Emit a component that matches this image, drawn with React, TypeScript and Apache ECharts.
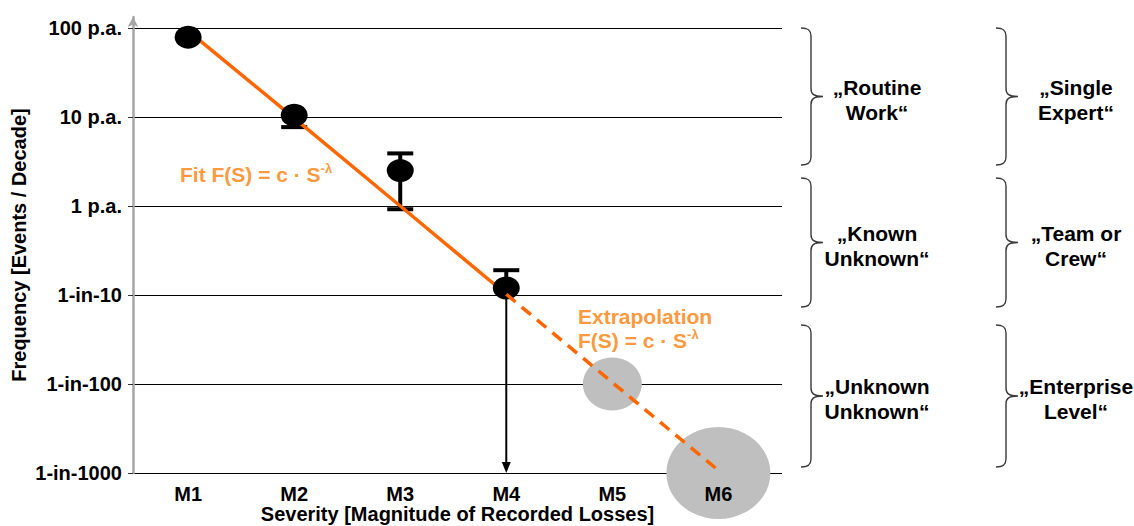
import React, { useEffect, useRef } from "react";
import * as echarts from "echarts";

// ---------- data ----------
const categories = ["M1", "M2", "M3", "M4", "M5", "M6"];
const yTickValues = [0.001, 0.01, 0.1, 1, 10, 100];
const yTickLabels = ["1-in-1000", "1-in-100", "1-in-10", "1 p.a.", "10 p.a.", "100 p.a."];
// observed frequencies (events / decade) for M1..M4
const observed = [79, 10.5, 2.5, 0.12];
const errLow = [0, 7.7, 0.92, 0.001];
const errHigh = [0, 0, 3.9, 0.19];
// power-law fit, solid over observed range M1..M4, dashed extrapolation M4..M6
const fitSolid = [93, 9.7, 1.0, 0.102];
const fitDashed = [0.102, 0.0104, 0.00107];
// "unknown" events at M5, M6
const unknownEvents = [0.01, 0.001];
const bandsLeft = ["„Routine\nWork“", "„Known\nUnknown“", "„Unknown\nUnknown“"];
const bandsRight = ["„Single\nExpert“", "„Team or\nCrew“", "„Enterprise\nLevel“"];

// ---------- styles / layout ----------
const FONT = '"Liberation Sans", Arial, Helvetica, sans-serif';
const ORANGE_LINE = "#ff6600";
const ORANGE_TEXT = "#fb9a40";
const Y_MIN = 0.001;
const Y_MAX = 133;
const ellipseSizes = [
  [59, 53],
  [104, 92],
];
const braceRows = [
  [28, 165],
  [178, 307],
  [325, 467],
];
const braceCols = [
  { x0: 801, tip: 823, textX: 877 },
  { x0: 996, tip: 1018, textX: 1076 },
];

function bracePath(x0: number, xt: number, y0: number, y1: number) {
  const xv = x0 + 10;
  const mid = (y0 + y1) / 2;
  const r = 8;
  return (
    `M${x0},${y0} C${xv - 2},${y0} ${xv},${y0 + 3} ${xv},${y0 + r} ` +
    `L${xv},${mid - r} C${xv},${mid - 3} ${xv + 2},${mid} ${xt},${mid} ` +
    `C${xv + 2},${mid} ${xv},${mid + 3} ${xv},${mid + r} ` +
    `L${xv},${y1 - r} C${xv},${y1 - 3} ${xv - 2},${y1} ${x0},${y1}`
  );
}

export default function App() {
  const ref = useRef<HTMLDivElement>(null);

  useEffect(() => {
    document.body.style.margin = "0";
    if (!ref.current) return;

    const graphics: any[] = [];
    braceCols.forEach((col, ci) => {
      braceRows.forEach((row, ri) => {
        const name = `brace_${ci}_${ri}`;
        echarts.graphic.registerShape(
          name,
          echarts.graphic.extendPath(bracePath(col.x0, col.tip, row[0], row[1]), {}) as any
        );
        graphics.push({
          type: name,
          x: 0,
          y: 0,
          style: { fill: "none", stroke: "#3a3a3a", lineWidth: 1.4 },
          silent: true,
        });
        const txt = (ci === 0 ? bandsLeft : bandsRight)[ri];
        graphics.push({
          type: "text",
          x: col.textX,
          y: (row[0] + row[1]) / 2 + 3,
          style: {
            text: txt,
            align: "center",
            verticalAlign: "middle",
            fontFamily: FONT,
            fontWeight: "bold",
            fontSize: 21,
            lineHeight: 25,
            fill: "#000",
          },
        });
      });
    });

    const rich = {
      m: { fontFamily: FONT, fontWeight: "bold", fontSize: 21, lineHeight: 24, fill: ORANGE_TEXT },
      s: {
        fontFamily: FONT,
        fontWeight: "bold",
        fontSize: 13,
        lineHeight: 14,
        verticalAlign: "top",
        fill: ORANGE_TEXT,
      },
    };
    graphics.push({
      type: "text",
      x: 180,
      y: 162,
      style: { text: "{m|Fit F(S) = c · S}{s|-λ}", rich, align: "left", verticalAlign: "top" },
    });
    graphics.push({
      type: "text",
      x: 578,
      y: 304,
      style: {
        text: "{m|Extrapolation}\n{m|F(S) = c · S}{s|-λ}",
        rich,
        align: "left",
        verticalAlign: "top",
      },
    });

    const errData = observed
      .map((v, i) => [i + 1, v, errLow[i], errHigh[i]])
      .filter((d) => d[2] > 0 || d[3] > 0);

    const chart = echarts.init(ref.current, null, { renderer: "svg" });
    const option: any = {
      animation: false,
      textStyle: { fontFamily: FONT },
      grid: { left: 133, right: 352, top: 17, bottom: 53, containLabel: false, outerBoundsMode: "none" },
      xAxis: {
        type: "value",
        min: 0.48,
        max: 6.6,
        z: 10,
        name: "Severity [Magnitude of Recorded Losses]",
        nameLocation: "middle",
        nameGap: 31,
        nameMoveOverlap: false,
        nameTextStyle: { fontFamily: FONT, fontWeight: "bold", fontSize: 20, color: "#000" },
        axisLine: { show: false },
        axisTick: { show: false },
        splitLine: { show: false },
        axisLabel: {
          customValues: [1, 2, 3, 4, 5, 6],
          formatter: (v: number) => categories[Math.round(v) - 1] ?? "",
          fontFamily: FONT,
          fontWeight: "bold",
          fontSize: 20,
          color: "#000",
          margin: 11,
        },
      },
      yAxis: {
        type: "log",
        logBase: 10,
        min: Y_MIN,
        max: Y_MAX,
        name: "Frequency [Events / Decade]",
        nameLocation: "middle",
        nameGap: 104,
        nameMoveOverlap: false,
        nameTextStyle: { fontFamily: FONT, fontWeight: "bold", fontSize: 20, color: "#000" },
        axisLine: {
          show: true,
          symbol: ["none", "arrow"],
          symbolSize: [8, 10],
          lineStyle: { color: "#a6a6a6", width: 2.5 },
        },
        axisTick: { show: true, length: 5, lineStyle: { color: "#333", width: 1 } },
        splitLine: { show: true, showMaxLine: false, lineStyle: { color: "#000", width: 1 } },
        axisLabel: {
          showMaxLabel: false,
          margin: 11,
          fontFamily: FONT,
          fontWeight: "bold",
          fontSize: 20,
          color: "#000",
          formatter: (v: number) => {
            const idx = yTickValues.findIndex(
              (t) => Math.abs(Math.log10(t) - Math.log10(v)) < 0.01
            );
            return idx >= 0 ? yTickLabels[idx] : "";
          },
        },
      },
      series: [
        {
          name: "Unknown events",
          type: "scatter",
          z: 1,
          clip: false,
          symbol: "circle",
          symbolSize: (_v: any, p: any) => ellipseSizes[p.dataIndex],
          itemStyle: { color: "#bfbfbf", opacity: 1 },
          data: unknownEvents.map((v, i) => [i + 5, v]),
        },
        {
          name: "Error bars",
          type: "custom",
          z: 2,
          clip: false,
          data: errData,
          renderItem: (_params: any, api: any) => {
            const x = api.value(0);
            const v = api.value(1);
            const lo = api.value(2);
            const hi = api.value(3);
            const c = api.coord([x, v]);
            const stroke = "#000";
            const children: any[] = [];
            if (hi > 0) {
              const p = api.coord([x, hi]);
              children.push({
                type: "line",
                shape: { x1: c[0], y1: c[1], x2: p[0], y2: p[1] },
                style: { stroke, lineWidth: 4 },
              });
              children.push({
                type: "line",
                shape: { x1: p[0] - 13, y1: p[1], x2: p[0] + 13, y2: p[1] },
                style: { stroke, lineWidth: 4 },
              });
            }
            if (lo > 0) {
              const p = api.coord([x, lo]);
              if (lo <= Y_MIN * 1.001) {
                children.push({
                  type: "line",
                  shape: { x1: c[0], y1: c[1], x2: p[0], y2: p[1] - 8 },
                  style: { stroke, lineWidth: 2 },
                });
                children.push({
                  type: "polygon",
                  shape: {
                    points: [
                      [p[0] - 4.5, p[1] - 11],
                      [p[0] + 4.5, p[1] - 11],
                      [p[0], p[1]],
                    ],
                  },
                  style: { fill: stroke },
                });
              } else {
                children.push({
                  type: "line",
                  shape: { x1: c[0], y1: c[1], x2: p[0], y2: p[1] },
                  style: { stroke, lineWidth: 4 },
                });
                children.push({
                  type: "line",
                  shape: { x1: p[0] - 13, y1: p[1], x2: p[0] + 13, y2: p[1] },
                  style: { stroke, lineWidth: 4 },
                });
              }
            }
            return { type: "group", children };
          },
        },
        {
          name: "Fit",
          type: "line",
          z: 3,
          clip: false,
          symbol: "none",
          lineStyle: { color: ORANGE_LINE, width: 3.5 },
          data: fitSolid.map((v, i) => [i + 1, v]),
        },
        {
          name: "Observed",
          type: "scatter",
          z: 4,
          clip: false,
          symbol: "circle",
          symbolSize: [27, 23],
          itemStyle: { color: "#000", opacity: 1 },
          data: observed.map((v, i) => [i + 1, v]),
        },
        {
          name: "Extrapolation",
          type: "line",
          z: 5,
          clip: false,
          symbol: "none",
          lineStyle: { color: ORANGE_LINE, width: 3.5, type: [12, 8] },
          data: fitDashed.map((v, i) => [i + 4, v]),
        },
      ],
      graphic: graphics,
    };
    chart.setOption(option);
    return () => chart.dispose();
  }, []);

  return <div ref={ref} style={{ width: 1134, height: 526 }} />;
}
